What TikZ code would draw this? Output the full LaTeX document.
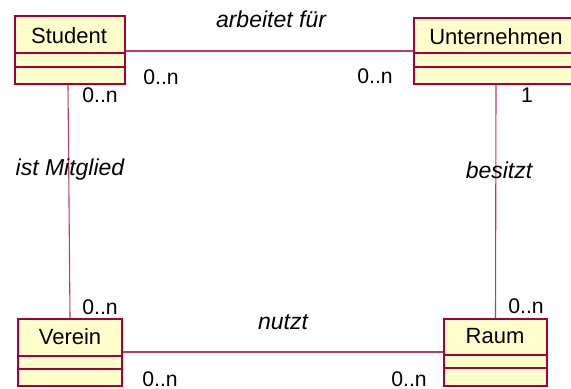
\documentclass[tikz,border=0pt]{standalone}
\usepackage{fontspec}
\setmainfont{Liberation Sans}
\definecolor{umlborder}{RGB}{165,0,60}
\definecolor{umlline}{RGB}{185,60,105}
\definecolor{umlfill}{RGB}{255,255,204}
\begin{document}
\begin{tikzpicture}[x=0.5pt,y=-0.5pt,
  classbox/.style={draw=umlborder,fill=umlfill,line width=0.9pt,inner sep=0pt,rectangle},
  sep/.style={draw=umlborder,line width=0.9pt},
  cname/.style={font=\fontsize{11}{12}\selectfont,inner sep=0pt},
  mult/.style={font=\fontsize{10.6}{12}\selectfont,inner sep=0pt},
  role/.style={font=\fontsize{11.5}{12}\selectfont\itshape,inner sep=0pt},
  conn/.style={draw=umlline,line width=0.55pt}]
\useasboundingbox[fill=white] (0,0) rectangle (571,389);
% classes
\node[classbox,minimum width=55pt,minimum height=34pt] (student) at (70,50) {};
\node[classbox,minimum width=82pt,minimum height=33pt] (unternehmen) at (496,51) {};
\node[classbox,minimum width=52pt,minimum height=33.5pt] (verein) at (70,352.5) {};
\node[classbox,minimum width=51.5pt,minimum height=33.5pt] (raum) at (495.5,352.5) {};
% separators
\draw[sep] (15,53) -- (125,53) (15,67) -- (125,67);
\draw[sep] (414,53) -- (580,53) (414,67) -- (580,67);
\draw[sep] (18,356) -- (122,356) (18,369) -- (122,369);
\draw[sep] (444,355) -- (547,355) (444,368) -- (547,368);
% names
\node[cname] (studentname) at (69,36) {Student};
\node[cname] (unternehmenname) at (496,37) {Unternehmen};
\node[cname] (vereinname) at (70,337) {Verein};
\node[cname] (raumname) at (495,336.5) {Raum};
% connectors
\draw[conn] (student.east |- 0,51) -- (unternehmen.west |- 0,51);
\draw[conn] ([xshift=-1pt]student.south) -- (verein.north);
\draw[conn] (unternehmen.south) -- (raum.north);
\draw[conn] (verein.east |- 0,352) -- (raum.west |- 0,352);
% labels
\node[role] (l1) at (271,19) {arbeitet für};
\node[role] (l2) at (70,170) {ist Mitglied};
\node[role] (l3) at (499,170) {besitzt};
\node[role] (l4) at (283,322) {nutzt};
\node[mult] (m1) at (161,77) {0..n};
\node[mult] (m2) at (375,76) {0..n};
\node[mult] (m3) at (100,95) {0..n};
\node[mult] (m4) at (527,95) {1};
\node[mult] (m5) at (100,307) {0..n};
\node[mult] (m6) at (526,306) {0..n};
\node[mult] (m7) at (160,379) {0..n};
\node[mult] (m8) at (409,379) {0..n};
\end{tikzpicture}
\end{document}
